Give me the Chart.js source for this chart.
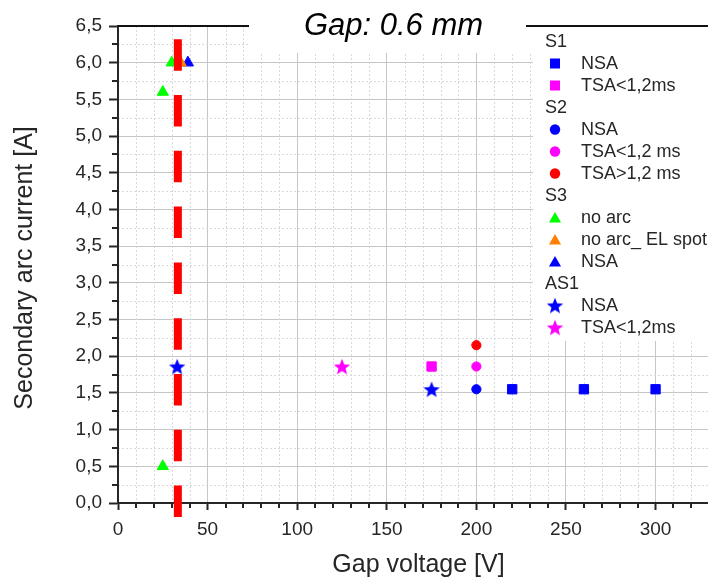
<!DOCTYPE html>
<html>
<head>
<meta charset="utf-8">
<script src="https://cdn.jsdelivr.net/npm/chart.js@4/dist/chart.umd.min.js"></script>
<style>
  html, body { margin: 0; padding: 0; background: #fff; overflow: hidden; width: 708px; height: 579px; }
  canvas { display: block; }
</style>
</head>
<body>
<canvas id="chart" width="728" height="579"></canvas>
<script>
// Gap voltage [V] / secondary arc current [A] per test series
const s1NsaV = [220, 260, 300];
const s1NsaI = [1.55, 1.55, 1.55];
const s1TsaShortV = [175];
const s1TsaShortI = [1.86];

const s2NsaV = [200];
const s2NsaI = [1.55];
const s2TsaShortV = [200];
const s2TsaShortI = [1.86];
const s2TsaLongV = [200];
const s2TsaLongI = [2.15];

const s3NoArcV = [25, 25, 30];
const s3NoArcI = [0.5, 5.6, 6.0];
const s3ElSpotV = [35];
const s3ElSpotI = [6.0];
const s3NsaV = [39];
const s3NsaI = [6.0];

const as1NsaV = [33, 175];
const as1NsaI = [1.86, 1.55];
const as1TsaShortV = [125];
const as1TsaShortI = [1.86];

// vertical threshold marker
const thresholdV = [33.4, 33.4];
const thresholdI = [6.32, -0.2];

// axis ticks
const xTicks = [0, 10, 20, 30, 40, 50, 60, 70, 80, 90, 100, 110, 120, 130, 140, 150, 160, 170, 180, 190, 200, 210, 220, 230, 240, 250, 260, 270, 280, 290, 300, 310, 320, 330];
const xLabelled = [0, 50, 100, 150, 200, 250, 300];
const yTicks = [0, 0.25, 0.5, 0.75, 1, 1.25, 1.5, 1.75, 2, 2.25, 2.5, 2.75, 3, 3.25, 3.5, 3.75, 4, 4.25, 4.5, 4.75, 5, 5.25, 5.5, 5.75, 6, 6.25, 6.5];
const yLabelled = [0, 0.5, 1, 1.5, 2, 2.5, 3, 3.5, 4, 4.5, 5, 5.5, 6, 6.5];

const BLUE = '#0000ff', MAGENTA = '#ff00ff', RED = '#ff0000', GREEN = '#00ff00', ORANGE = '#ff8000';
const TEXT = '#262626';
const FONT = '"Liberation Sans", Arial, Helvetica, sans-serif';

// filled five-pointed star as a point image
function starImage(color, R, ratio) {
  const size = Math.ceil(2 * R + 4);
  const c = document.createElement('canvas');
  c.width = size; c.height = size;
  const g = c.getContext('2d');
  const cx = size / 2, cy = size / 2 + R * 0.095;
  g.beginPath();
  for (let k = 0; k < 10; k++) {
    const r = k % 2 === 0 ? R : R * ratio;
    const a = -Math.PI / 2 + k * Math.PI / 5;
    const px = cx + r * Math.cos(a), py = cy + r * Math.sin(a);
    if (k === 0) g.moveTo(px, py); else g.lineTo(px, py);
  }
  g.closePath();
  g.fillStyle = color;
  g.fill();
  return c;
}
const blueStar = starImage(BLUE, 8.6, 0.43);
const magentaStar = starImage(MAGENTA, 8.6, 0.43);

const series = [
  { group: 'S1', label: 'NSA', style: 'rect', color: BLUE, v: s1NsaV, i: s1NsaI },
  { group: 'S1', label: 'TSA<1,2ms', style: 'rect', color: MAGENTA, v: s1TsaShortV, i: s1TsaShortI },
  { group: 'S2', label: 'NSA', style: 'circle', color: BLUE, v: s2NsaV, i: s2NsaI },
  { group: 'S2', label: 'TSA<1,2 ms', style: 'circle', color: MAGENTA, v: s2TsaShortV, i: s2TsaShortI },
  { group: 'S2', label: 'TSA>1,2 ms', style: 'circle', color: RED, v: s2TsaLongV, i: s2TsaLongI },
  { group: 'S3', label: 'no arc', style: 'triangle', color: GREEN, v: s3NoArcV, i: s3NoArcI },
  { group: 'S3', label: 'no arc_ EL spot', style: 'triangle', color: ORANGE, v: s3ElSpotV, i: s3ElSpotI },
  { group: 'S3', label: 'NSA', style: 'triangle', color: BLUE, v: s3NsaV, i: s3NsaI },
  { group: 'AS1', label: 'NSA', style: blueStar, color: BLUE, v: as1NsaV, i: as1NsaI },
  { group: 'AS1', label: 'TSA<1,2ms', style: magentaStar, color: MAGENTA, v: as1TsaShortV, i: as1TsaShortI }
];

const radiusFor = s => s === 'rect' ? 6.6 : s === 'circle' ? 4.6 : s === 'triangle' ? 6.5 : 8;

const pointSets = series.map(s => ({
  label: s.label,
  group: s.group,
  data: s.v.map((x, k) => ({ x: x, y: s.i[k] })),
  pointStyle: s.style,
  pointRadius: radiusFor(s.style),
  pointHoverRadius: radiusFor(s.style),
  backgroundColor: s.color,
  borderColor: s.color,
  pointBorderWidth: 1,
  showLine: false
}));

const thresholdSet = {
  label: 'threshold',
  data: thresholdV.map((x, k) => ({ x: x, y: thresholdI[k] })),
  showLine: true,
  borderColor: RED,
  borderWidth: 8,
  borderDash: [31.5, 24.3],
  borderCapStyle: 'butt',
  pointRadius: 0,
  clip: false,
  order: -1
};

const isMajorX = v => xLabelled.some(m => Math.abs(m - v) < 1e-9);
const isMajorY = v => yLabelled.some(m => Math.abs(m - v) < 1e-9);

function drawLegendMarker(ctx, style, color, cx, cy) {
  ctx.fillStyle = color;
  if (style === 'rect') {
    ctx.fillRect(cx - 5, cy - 5, 10, 10);
  } else if (style === 'circle') {
    ctx.beginPath(); ctx.arc(cx, cy, 5.2, 0, Math.PI * 2); ctx.fill();
  } else if (style === 'triangle') {
    const r = 7, yc = cy + 1.5;
    ctx.beginPath();
    ctx.moveTo(cx, yc - r);
    ctx.lineTo(cx + r * Math.sin(2 * Math.PI / 3), yc - r * Math.cos(2 * Math.PI / 3));
    ctx.lineTo(cx + r * Math.sin(4 * Math.PI / 3), yc - r * Math.cos(4 * Math.PI / 3));
    ctx.closePath(); ctx.fill();
  } else {
    ctx.drawImage(style, cx - style.width / 2, cy - style.height / 2);
  }
}

const decorations = {
  id: 'decorations',
  beforeDatasetsDraw(chart) {
    const { ctx, chartArea: a, scales: { x, y } } = chart;

    // dotted minor grid
    ctx.save();
    ctx.beginPath();
    ctx.rect(a.left + 1, a.top, a.right - a.left, a.bottom - a.top - 1);
    ctx.clip();
    ctx.strokeStyle = '#d9d9d9';
    ctx.lineWidth = 1;
    ctx.setLineDash([2, 2]);
    ctx.beginPath();
    xTicks.filter(v => !isMajorX(v)).forEach(v => {
      const px = Math.round(x.getPixelForValue(v)) + 0.5;
      ctx.moveTo(px, a.top); ctx.lineTo(px, a.bottom);
    });
    yTicks.filter(v => !isMajorY(v)).forEach(v => {
      const py = Math.round(y.getPixelForValue(v)) + 0.5;
      ctx.moveTo(a.left, py); ctx.lineTo(a.right, py);
    });
    ctx.stroke();
    ctx.restore();

    // minor tick marks
    ctx.save();
    ctx.strokeStyle = TEXT;
    ctx.lineWidth = 2;
    ctx.beginPath();
    xTicks.filter(v => !isMajorX(v)).forEach(v => {
      const px = Math.round(x.getPixelForValue(v));
      ctx.moveTo(px, a.bottom); ctx.lineTo(px, a.bottom + 5);
    });
    yTicks.filter(v => !isMajorY(v)).forEach(v => {
      const py = Math.round(y.getPixelForValue(v));
      ctx.moveTo(a.left, py); ctx.lineTo(a.left - 6, py);
    });
    ctx.stroke();
    ctx.restore();

    // title panel and legend panel
    ctx.save();
    ctx.fillStyle = '#ffffff';
    ctx.fillRect(249, 0, 284, 53);
    ctx.fillRect(533, 27, a.right - 533, 314);
    ctx.fillStyle = '#111111';
    ctx.fillRect(a.left, a.top - 1, 249 - a.left, 2);
    ctx.fillRect(526, a.top - 1, a.right - 526, 2);

    ctx.fillStyle = '#000000';
    ctx.font = 'italic 31px ' + FONT;
    ctx.textAlign = 'center';
    ctx.textBaseline = 'alphabetic';
    ctx.fillText('Gap: 0.6 mm', 393.5, 35);

    // legend, grouped by series
    ctx.font = '18px ' + FONT;
    ctx.textAlign = 'left';
    ctx.textBaseline = 'middle';
    let row = 0, lastGroup = null;
    const rowY = r => 41.5 + 22 * r;
    pointSets.forEach((ds, k) => {
      if (ds.group !== lastGroup) {
        ctx.fillStyle = TEXT;
        ctx.fillText(ds.group, 545, rowY(row) + 1);
        lastGroup = ds.group;
        row++;
      }
      drawLegendMarker(ctx, series[k].style, series[k].color, 555, rowY(row));
      ctx.fillStyle = TEXT;
      ctx.fillText(ds.label, 581, rowY(row) + 1);
      row++;
    });
    ctx.restore();
  }
};

new Chart(document.getElementById('chart'), {
  type: 'scatter',
  data: { datasets: [thresholdSet].concat(pointSets) },
  options: {
    responsive: false,
    animation: false,
    devicePixelRatio: 1,
    events: [],
    layout: { padding: { top: 26, left: 0, right: 0, bottom: 0 } },
    plugins: { legend: { display: false }, tooltip: { enabled: false }, title: { display: false } },
    scales: {
      x: {
        type: 'linear',
        min: 0,
        max: 335.4,
        afterBuildTicks: s => { s.ticks = xTicks.map(v => ({ value: v })); },
        afterFit: s => { s.height = 76; },
        ticks: {
          autoSkip: false,
          maxRotation: 0,
          padding: 8,
          color: TEXT,
          font: { family: FONT, size: 19 },
          callback: v => isMajorX(v) ? String(v) : ''
        },
        grid: {
          color: c => (c.tick && isMajorX(c.tick.value)) ? '#c6c6c6' : 'rgba(0,0,0,0)',
          tickColor: c => (c.tick && isMajorX(c.tick.value)) ? TEXT : 'rgba(0,0,0,0)',
          lineWidth: 1,
          tickWidth: 2,
          tickLength: 7
        },
        border: { display: true, color: TEXT, width: 2 },
        title: {
          display: true,
          text: 'Gap voltage [V]',
          color: TEXT,
          font: { family: FONT, size: 25, lineHeight: 1.1 },
          padding: { top: 0, bottom: 0 }
        }
      },
      y: {
        type: 'linear',
        min: 0,
        max: 6.5,
        afterBuildTicks: s => { s.ticks = yTicks.map(v => ({ value: v })); },
        afterFit: s => { s.width = 118; },
        ticks: {
          autoSkip: false,
          padding: 7,
          color: TEXT,
          font: { family: FONT, size: 19 },
          callback: v => isMajorY(v) ? v.toFixed(1).replace('.', ',') : ''
        },
        grid: {
          color: c => (c.tick && isMajorY(c.tick.value)) ? '#c6c6c6' : 'rgba(0,0,0,0)',
          tickColor: c => (c.tick && isMajorY(c.tick.value)) ? TEXT : 'rgba(0,0,0,0)',
          lineWidth: 1,
          tickWidth: 2,
          tickLength: 9
        },
        border: { display: true, color: TEXT, width: 2 },
        title: {
          display: true,
          text: 'Secondary arc current [A] ',
          color: TEXT,
          font: { family: FONT, size: 25, lineHeight: 1.2 },
          padding: { top: 10, bottom: 0 }
        }
      }
    }
  },
  plugins: [decorations]
});
</script>
</body>
</html>
